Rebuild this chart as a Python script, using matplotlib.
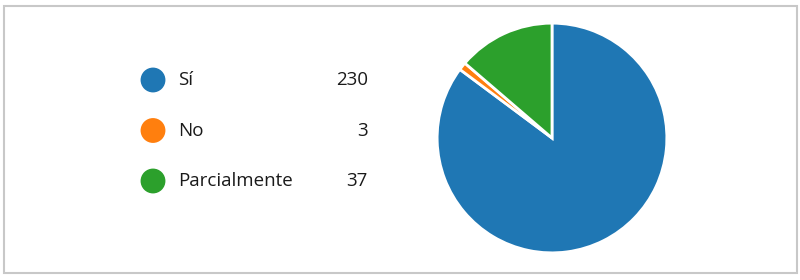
import matplotlib.pyplot as plt
from matplotlib.patches import Rectangle

labels = ["Sí", "No", "Parcialmente"]
values = [230, 3, 37]
colors = ["#1f77b4", "#ff7f0e", "#2ca02c"]

plt.rcParams['font.family'] = ['Open Sans', 'DejaVu Sans']

fig = plt.figure(figsize=(8, 2.8), dpi=100)

# background canvas in pixel coordinates
bg = fig.add_axes([0, 0, 1, 1])
bg.set_xlim(0, 800)
bg.set_ylim(280, 0)
bg.axis('off')
bg.add_patch(Rectangle((3.5, 5.5), 793, 267, fill=False, edgecolor='#c8c8c8', linewidth=1.5))

# legend rows
row_y0 = 80
row_gap = 50.5
for i, (lab, val, col) in enumerate(zip(labels, values, colors)):
    y = row_y0 + i * row_gap
    bg.scatter([153], [y], s=320, color=col, edgecolors='none')
    bg.text(178, y, lab, fontsize=13.5, color='#1a1a1a', va='center', ha='left')
    bg.text(368, y, str(val), fontsize=13.5, color='#1a1a1a', va='center', ha='right')

# pie
ax = fig.add_axes([436 / 800, 26 / 280, 232 / 800, 232 / 280])
ax.pie(values, colors=colors, startangle=90, counterclock=False, radius=1,
       wedgeprops=dict(edgecolor='white', linewidth=2))
ax.set_xlim(-1.01, 1.01)
ax.set_ylim(-1.01, 1.01)
ax.set_aspect('equal')

fig.savefig('out.png', dpi=100)
